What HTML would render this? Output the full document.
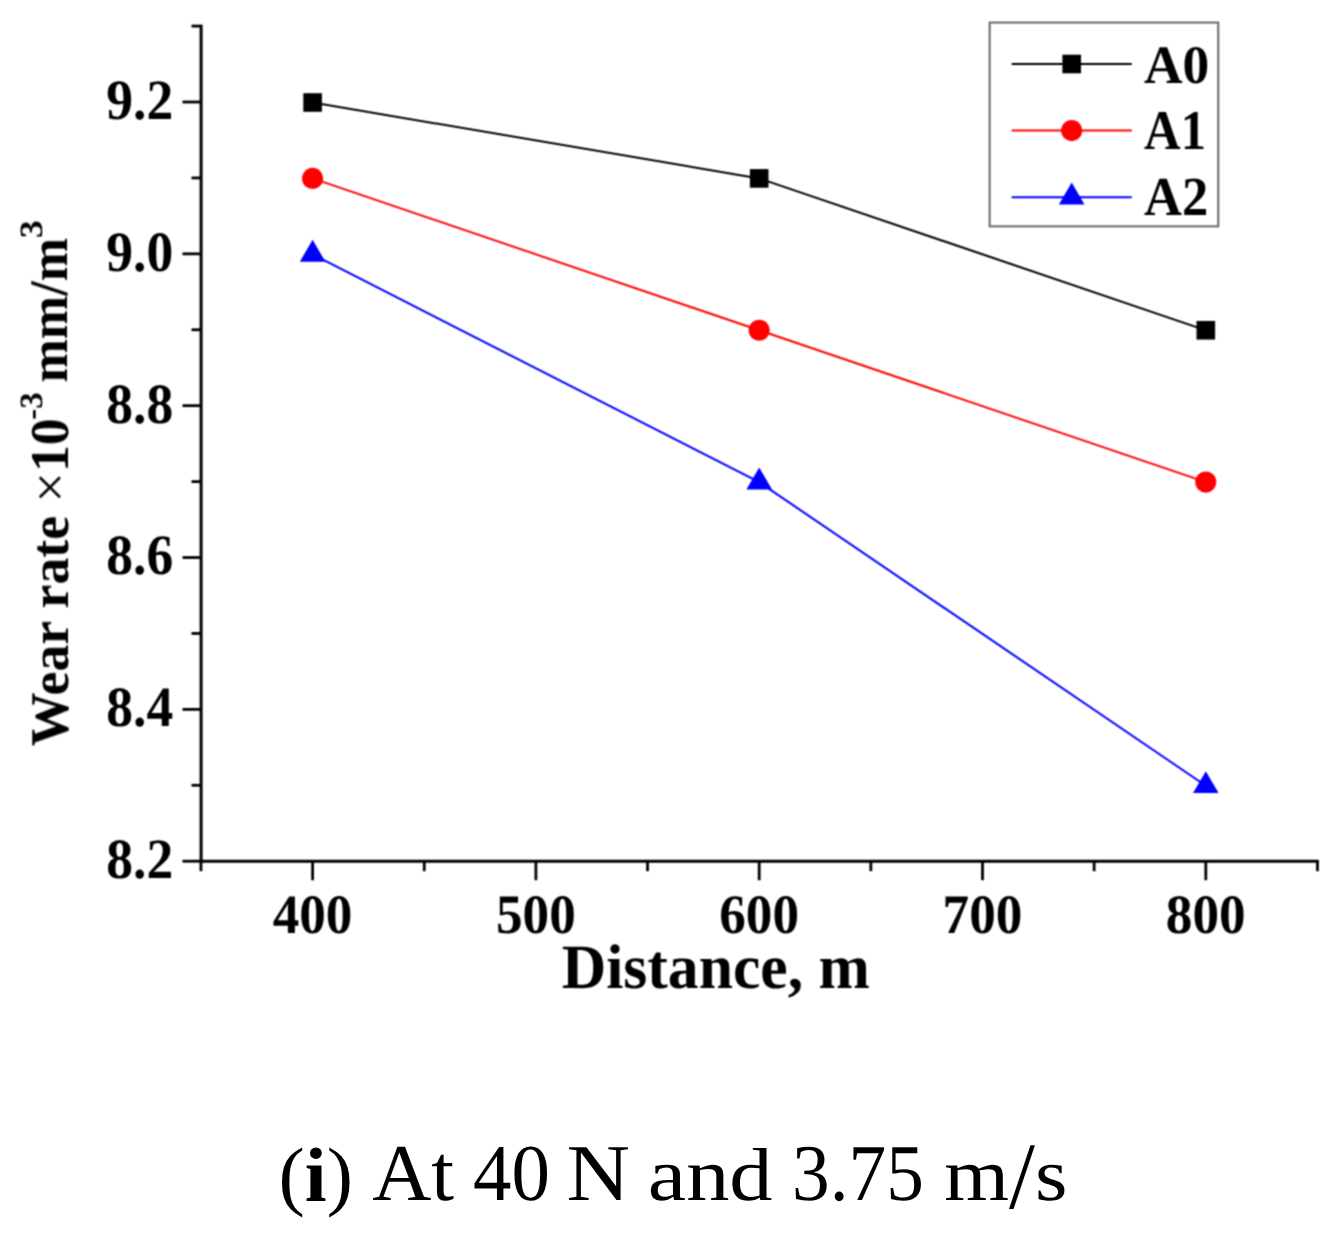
<!DOCTYPE html>
<html lang="en"><head><meta charset="utf-8"><title>Wear rate vs distance</title>
<style>html,body{margin:0;padding:0;background:#fff}body{width:1338px;height:1239px;overflow:hidden}svg{display:block}.b{font-family:"Liberation Serif","Times New Roman",serif;font-weight:bold;fill:#000;text-rendering:geometricPrecision}.c{font-family:"Liberation Serif","Times New Roman",serif;fill:#000;text-rendering:geometricPrecision}</style></head><body>
<svg width="1338" height="1239" viewBox="0 0 1338 1239">
<rect width="1338" height="1239" fill="#fff"/>
<defs><filter id="soft" color-interpolation-filters="sRGB" x="0" y="0" width="1338" height="1040" filterUnits="userSpaceOnUse"><feConvolveMatrix order="3" kernelMatrix="1 2 1 2 4 2 1 2 1" divisor="16" edgeMode="duplicate" preserveAlpha="false"/></filter></defs>
<g filter="url(#soft)">
<g stroke="#000" stroke-width="3" fill="none" stroke-linecap="butt">
<line x1="201.1" y1="24.68" x2="201.1" y2="862.7"/>
<line x1="199.6" y1="861.2" x2="1318.8500000000001" y2="861.2"/>
</g>
<g stroke="#000" stroke-width="2.8" fill="none">
<line x1="182.5" y1="861.2" x2="201.1" y2="861.2"/>
<line x1="191.5" y1="785.28" x2="201.1" y2="785.28"/>
<line x1="182.5" y1="709.36" x2="201.1" y2="709.36"/>
<line x1="191.5" y1="633.44" x2="201.1" y2="633.44"/>
<line x1="182.5" y1="557.52" x2="201.1" y2="557.52"/>
<line x1="191.5" y1="481.6" x2="201.1" y2="481.6"/>
<line x1="182.5" y1="405.68" x2="201.1" y2="405.68"/>
<line x1="191.5" y1="329.76" x2="201.1" y2="329.76"/>
<line x1="182.5" y1="253.84" x2="201.1" y2="253.84"/>
<line x1="191.5" y1="177.92" x2="201.1" y2="177.92"/>
<line x1="182.5" y1="102.0" x2="201.1" y2="102.0"/>
<line x1="191.5" y1="26.08" x2="201.1" y2="26.08"/>
<line x1="200.95" y1="861.2" x2="200.95" y2="871.2"/>
<line x1="312.6" y1="861.2" x2="312.6" y2="880.2"/>
<line x1="424.25" y1="861.2" x2="424.25" y2="871.2"/>
<line x1="535.9" y1="861.2" x2="535.9" y2="880.2"/>
<line x1="647.55" y1="861.2" x2="647.55" y2="871.2"/>
<line x1="759.2" y1="861.2" x2="759.2" y2="880.2"/>
<line x1="870.85" y1="861.2" x2="870.85" y2="871.2"/>
<line x1="982.5" y1="861.2" x2="982.5" y2="880.2"/>
<line x1="1094.15" y1="861.2" x2="1094.15" y2="871.2"/>
<line x1="1205.8" y1="861.2" x2="1205.8" y2="880.2"/>
<line x1="1317.45" y1="861.2" x2="1317.45" y2="871.2"/>
</g>
<text transform="translate(106.24 878.02) scale(0.9732 1.0362)" class="b" font-size="55">8.2</text>
<text transform="translate(106.24 726.18) scale(0.9732 1.0362)" class="b" font-size="55">8.4</text>
<text transform="translate(106.24 574.34) scale(0.9732 1.0362)" class="b" font-size="55">8.6</text>
<text transform="translate(106.24 422.50) scale(0.9732 1.0362)" class="b" font-size="55">8.8</text>
<text transform="translate(106.24 270.66) scale(0.9732 1.0362)" class="b" font-size="55">9.0</text>
<text transform="translate(106.24 118.82) scale(0.9732 1.0362)" class="b" font-size="55">9.2</text>
<text transform="translate(272.67 932.79) scale(0.9668 1.0108)" class="b" font-size="55">400</text>
<text transform="translate(495.97 932.79) scale(0.9668 1.0108)" class="b" font-size="55">500</text>
<text transform="translate(719.27 932.79) scale(0.9668 1.0108)" class="b" font-size="55">600</text>
<text transform="translate(942.57 932.79) scale(0.9668 1.0108)" class="b" font-size="55">700</text>
<text transform="translate(1165.87 932.79) scale(0.9668 1.0108)" class="b" font-size="55">800</text>
<text transform="translate(561.69 987.73) scale(1.0106 1.0350)" class="b" font-size="61">Distance, m</text>
<g transform="translate(0 745.5) rotate(-90)">
<text transform="translate(-0.76 67.73) scale(1.0144 1.0278)" class="b" font-size="53">Wear rate <tspan font-weight="normal">×</tspan>10</text>
<text transform="translate(325.72 41.75) scale(1.0268 1.0140)" class="b" font-size="32">-3</text>
<text transform="translate(363.03 67.49) scale(0.9817 1.0225)" class="b" font-size="53">mm/m</text>
<text transform="translate(507.42 41.75) scale(1.1055 1.0140)" class="b" font-size="32">3</text>
</g>
<polyline points="312.6,102.50 759.2,178.42 1205.8,330.26" fill="none" stroke="#000" stroke-width="2"/>
<rect x="303.30" y="93.20" width="18.6" height="18.6" fill="#000"/>
<rect x="749.90" y="169.12" width="18.6" height="18.6" fill="#000"/>
<rect x="1196.50" y="320.96" width="18.6" height="18.6" fill="#000"/>
<polyline points="312.6,178.42 759.2,330.26 1205.8,482.10" fill="none" stroke="#f00" stroke-width="2"/>
<circle cx="312.6" cy="178.42" r="10.6" fill="#f00"/>
<circle cx="759.2" cy="330.26" r="10.6" fill="#f00"/>
<circle cx="1205.8" cy="482.1" r="10.6" fill="#f00"/>
<polyline points="312.6,254.34 759.2,482.10 1205.8,785.78" fill="none" stroke="#00f" stroke-width="2"/>
<polygon points="312.6,239.74 325.40,261.64 299.80,261.64" fill="#00f"/>
<polygon points="759.2,467.50 772.00,489.40 746.40,489.40" fill="#00f"/>
<polygon points="1205.8,771.18 1218.60,793.08 1193.00,793.08" fill="#00f"/>
<rect x="989.65" y="22.55" width="228.6" height="203.8" fill="#fff" stroke="#666" stroke-width="2"/>
<line x1="1011.6" y1="64.0" x2="1131.8" y2="64.0" stroke="#000" stroke-width="2"/>
<rect x="1062.40" y="54.70" width="18.6" height="18.6" fill="#000"/>
<text transform="translate(1144.01 82.50) scale(0.9890 1.0055)" class="b" font-size="54">A0</text>
<line x1="1011.6" y1="130.6" x2="1131.8" y2="130.6" stroke="#f00" stroke-width="2"/>
<circle cx="1071.7" cy="130.6" r="10.6" fill="#f00"/>
<text transform="translate(1144.03 149.20) scale(0.9386 1.0394)" class="b" font-size="54">A1</text>
<line x1="1011.6" y1="197.2" x2="1131.8" y2="197.2" stroke="#00f" stroke-width="2"/>
<polygon points="1071.7,182.60 1084.50,204.50 1058.90,204.50" fill="#00f"/>
<text transform="translate(1144.01 215.30) scale(0.9723 1.0182)" class="b" font-size="54">A2</text>
</g>
<text transform="translate(278.51 1200.60) scale(0.9970 0.9790)" class="c" font-size="79">(<tspan font-weight="bold">i</tspan>)</text>
<text transform="translate(372.22 1200.30) scale(1.0367 1.0203)" class="c" font-size="79">At</text>
<text transform="translate(473.04 1200.30) scale(0.9732 1.0203)" class="c" font-size="79">40</text>
<text transform="translate(566.50 1200.30) scale(1.1132 1.0203)" class="c" font-size="79">N</text>
<text transform="translate(647.79 1200.30) scale(1.0939 0.9489)" class="c" font-size="79">and</text>
<text transform="translate(792.02 1200.30) scale(0.9536 1.0203)" class="c" font-size="79">3.75</text>
<text transform="translate(944.15 1200.30) scale(1.0548 0.9489)" class="c" font-size="79">m<tspan font-size="100.5" dy="8.5" textLength="24.6" lengthAdjust="spacingAndGlyphs">/</tspan><tspan dy="-8.5">s</tspan></text>
</svg></body></html>
